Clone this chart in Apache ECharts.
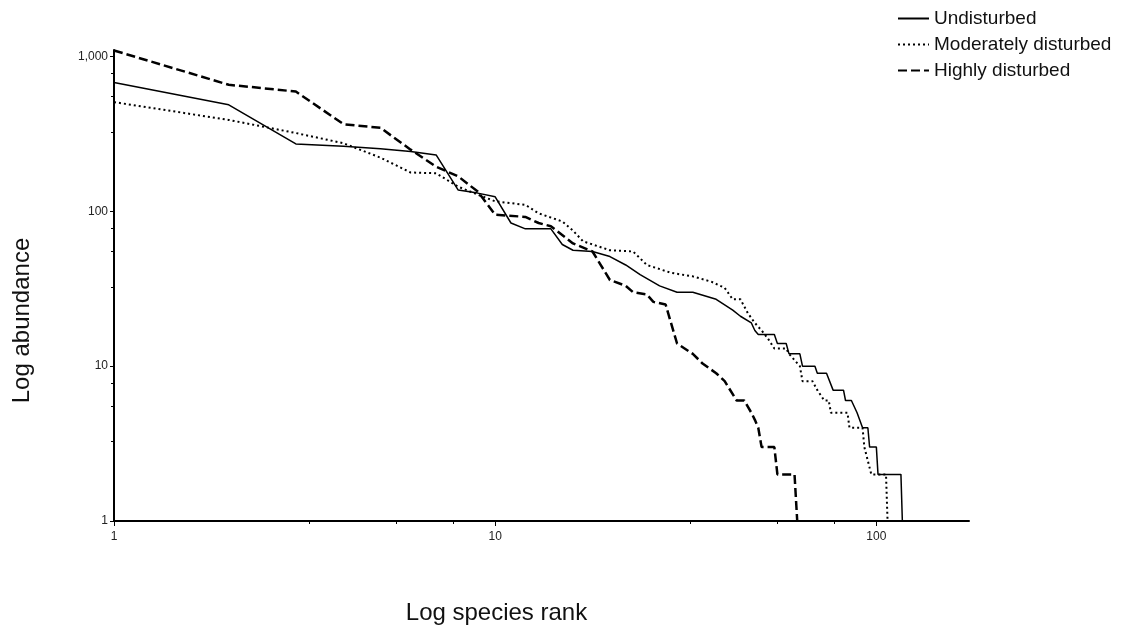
<!DOCTYPE html>
<html>
<head>
<meta charset="utf-8">
<script src="https://cdn.jsdelivr.net/npm/echarts@6/dist/echarts.min.js"></script>
<style>
html,body{margin:0;padding:0;background:#fff;}
#chart{width:1121px;height:625px;}
</style>
</head>
<body>
<div id="chart"></div>
<script>
// Rank-abundance data (species rank -> abundance)
const seriesNames = ["Undisturbed", "Moderately disturbed", "Highly disturbed"];

const undisturbedRank = [1, 2, 3, 4, 5, 6, 7, 8, 9, 10, 11, 12, 14, 15, 16, 18, 20, 22, 24, 27, 30, 33, 38, 42, 44, 47, 48, 49, 54, 55, 58, 59, 63, 64, 69, 70, 74, 77, 82, 83, 86, 89, 92, 95, 96, 100, 101, 116, 117];
const undisturbedAbund = [678, 487, 272, 263, 253, 243, 231, 137, 131, 124, 84, 77, 77, 61, 56, 55, 51, 45, 39, 33, 30, 30, 27, 23, 21, 19, 17, 16, 16, 14, 14, 12, 12, 10, 10, 9, 9, 7, 7, 6, 6, 5, 4, 4, 3, 3, 2, 2, 1];

const moderateRank = [1, 2, 3, 4, 5, 6, 7, 8, 9, 10, 12, 13, 15, 16, 17, 20, 23, 25, 29, 33, 37, 40, 42, 44, 46, 48, 50, 52, 54, 58, 59, 63, 64, 68, 70, 73, 75, 76, 84, 85, 92, 93, 97, 106, 107];
const moderateAbund = [507, 389, 320, 275, 222, 178, 176, 144, 128, 116, 110, 97, 86, 75, 64, 56, 55, 45, 40, 38, 35, 32, 27, 27, 22, 19, 17, 15, 13, 13, 12, 10, 8, 8, 7, 6, 6, 5, 5, 4, 4, 3, 2, 2, 1];

const highlyRank = [1, 2, 3, 4, 5, 6, 7, 8, 9, 10, 12, 13, 14, 16, 18, 20, 22, 23, 25, 26, 28, 30, 33, 35, 38, 40, 43, 45, 47, 48, 49, 50, 54, 55, 61, 62];
const highlyAbund = [1092, 656, 593, 365, 346, 250, 194, 168, 134, 95, 92, 84, 80, 62, 55, 36, 33, 30, 29, 26, 25, 14, 12, 10.4, 9, 8, 6, 6, 5, 4.5, 4, 3, 3, 2, 2, 1];

const xTickValues = [1, 10, 100];
const yTickValues = [1, 10, 100, 1000];

function zip(a, b) { return a.map((v, i) => [v, b[i]]); }

const FONT = "'Liberation Sans', Arial, sans-serif";
const chart = echarts.init(document.getElementById('chart'), null, {renderer: 'canvas'});

chart.setOption({
  animation: false,
  backgroundColor: '#ffffff',
  grid: {left: 114, right: 152, top: 50, bottom: 104, containLabel: false, outerBoundsMode: 'none'},
  legend: {
    orient: 'vertical',
    left: 892,
    top: 4,
    itemWidth: 31,
    itemHeight: 14,
    itemGap: 7,
    itemStyle: {opacity: 0},
    textStyle: {fontFamily: FONT, fontSize: 19, color: '#111'},
    data: seriesNames
  },
  xAxis: {
    type: 'log',
    logBase: 10,
    min: 1,
    max: 175,
    name: 'Log species rank',
    nameLocation: 'middle',
    nameGap: 80,
    nameTextStyle: {fontFamily: FONT, fontSize: 24, color: '#111', padding: [0, 90, 0, 0]},
    axisLine: {show: true, onZero: false, lineStyle: {color: '#000', width: 2}},
    axisTick: {show: true, length: 5, customValues: xTickValues, lineStyle: {color: '#000', width: 1}},
    minorTick: {show: true, splitNumber: 4, length: 3, lineStyle: {color: '#000', width: 1}},
    axisLabel: {customValues: xTickValues, margin: 10, fontFamily: FONT, fontSize: 12, color: '#222',
      formatter: v => Number(v).toLocaleString('en-US')},
    splitLine: {show: false},
    minorSplitLine: {show: false}
  },
  yAxis: {
    type: 'log',
    logBase: 10,
    min: 1,
    max: 1100,
    name: 'Log abundance',
    nameLocation: 'middle',
    nameGap: 80,
    nameRotate: 90,
    nameTextStyle: {fontFamily: FONT, fontSize: 24, color: '#111', padding: [0, 70, 0, 0]},
    axisLine: {show: true, onZero: false, lineStyle: {color: '#000', width: 2}},
    axisTick: {show: true, length: 4, customValues: yTickValues, lineStyle: {color: '#000', width: 1}},
    minorTick: {show: true, splitNumber: 4, length: 3, lineStyle: {color: '#000', width: 1}},
    axisLabel: {customValues: yTickValues, margin: 6, fontFamily: FONT, fontSize: 12, color: '#222',
      formatter: v => Number(v).toLocaleString('en-US')},
    splitLine: {show: false},
    minorSplitLine: {show: false}
  },
  series: [
    {
      name: seriesNames[0], type: 'line', symbol: 'none', z: 3,
      data: zip(undisturbedRank, undisturbedAbund),
      lineStyle: {color: '#000', width: 1.5, type: 'solid'},
      itemStyle: {color: '#000'}
    },
    {
      name: seriesNames[1], type: 'line', symbol: 'none', z: 2,
      data: zip(moderateRank, moderateAbund),
      lineStyle: {color: '#000', width: 2, type: [2, 3]},
      itemStyle: {color: '#000'}
    },
    {
      name: seriesNames[2], type: 'line', symbol: 'none', z: 4,
      data: zip(highlyRank, highlyAbund),
      lineStyle: {color: '#000', width: 2.5, type: [9, 4]},
      itemStyle: {color: '#000'}
    }
  ]
});
</script>
</body>
</html>
